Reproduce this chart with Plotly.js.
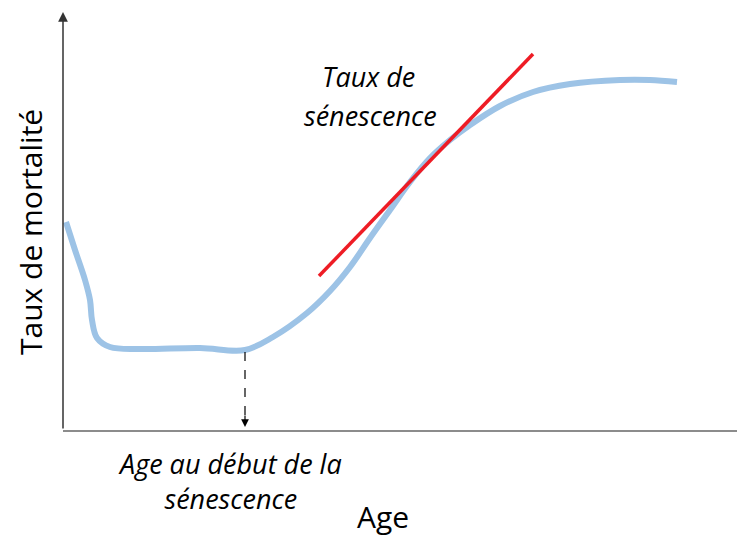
<!DOCTYPE html>
<html><head><meta charset="utf-8">
<script src="https://cdn.plot.ly/plotly-3.0.1.min.js"></script>
<style>body{margin:0;background:#fff}#c{width:737px;height:536px}</style>
</head><body><div id="c"></div>
<script>
// Mortality curve (age units, mortality units)
const ageCurve = [3, 12, 22, 27, 29, 34, 47, 77, 137, 182, 210, 244, 267, 287, 307, 327, 347, 367, 387, 407, 437, 470, 507, 557, 587, 614];
const mortCurve = [208, 180, 150, 130, 110, 92, 83, 81, 82, 80, 93, 117, 139, 163, 192, 220, 248, 272, 290, 305, 324, 338, 346, 350, 350, 348];
// Tangent (senescence rate)
const ageTangent = [256, 470];
const mortTangent = [154, 376];
// Age at senescence onset
const onsetAge = 182;
const onsetMort = 78;

const data = [
  {x: ageCurve, y: mortCurve, mode: 'lines', line: {color: '#9dc3e6', width: 6, shape: 'spline', smoothing: 1}, hoverinfo: 'skip'},
  {x: ageTangent, y: mortTangent, mode: 'lines', line: {color: '#ee1c25', width: 3.5}, hoverinfo: 'skip'}
];
const itf = {family: 'Open Sans, sans-serif', size: 27, color: '#000', style: 'italic'};
const upf = {family: 'Open Sans, sans-serif', size: 30, color: '#000'};
const layout = {
  width: 737, height: 536,
  margin: {l: 63, r: 0, t: 12, b: 106},
  paper_bgcolor: '#fff', plot_bgcolor: '#fff',
  showlegend: false,
  xaxis: {range: [0, 674], showgrid: false, zeroline: false, showticklabels: false, ticks: '', showline: true, linecolor: '#8c8c8c', linewidth: 2, fixedrange: true},
  yaxis: {range: [0, 418], showgrid: false, zeroline: false, showticklabels: false, ticks: '', showline: false, fixedrange: true},
  shapes: [
    {type: 'line', xref: 'x', yref: 'y', x0: onsetAge, x1: onsetAge, y0: onsetMort, y1: 14, line: {color: '#000', width: 1.2, dash: 'dash'}}
  ],
  annotations: [
    {x: 0, y: 418, ax: 0, ay: 0, axref: 'x', ayref: 'y', xref: 'x', yref: 'y', text: '', showarrow: true, arrowhead: 2, arrowsize: 1.3, arrowwidth: 1.5, arrowcolor: '#333'},
    {x: onsetAge, y: 3, ax: onsetAge, ay: 16, axref: 'x', ayref: 'y', xref: 'x', yref: 'y', text: '', showarrow: true, arrowhead: 2, arrowsize: 1.3, arrowwidth: 1.2, arrowcolor: '#000'},
    {xref: 'paper', yref: 'paper', x: 305/674, y: 353/418, text: 'Taux de', showarrow: false, font: itf, xanchor: 'center', yanchor: 'middle'},
    {xref: 'paper', yref: 'paper', x: 307/674, y: 315/418, text: 'sénescence', showarrow: false, font: itf, xanchor: 'center', yanchor: 'middle'},
    {xref: 'paper', yref: 'paper', x: 167/674, y: -51/418, text: 'Age au début de la<br>sénescence', showarrow: false, font: itf, align: 'center', xanchor: 'center', yanchor: 'middle'},
    {xref: 'paper', yref: 'paper', x: 320/674, y: -86/418, text: 'Age', showarrow: false, font: upf, xanchor: 'center', yanchor: 'middle'},
    {xref: 'paper', yref: 'paper', x: -33/674, y: 198/418, text: 'Taux de mortalité', showarrow: false, textangle: -90, font: upf, xanchor: 'center', yanchor: 'middle'}
  ]
};
Plotly.newPlot('c', data, layout, {displayModeBar: false, staticPlot: true});
</script></body></html>
